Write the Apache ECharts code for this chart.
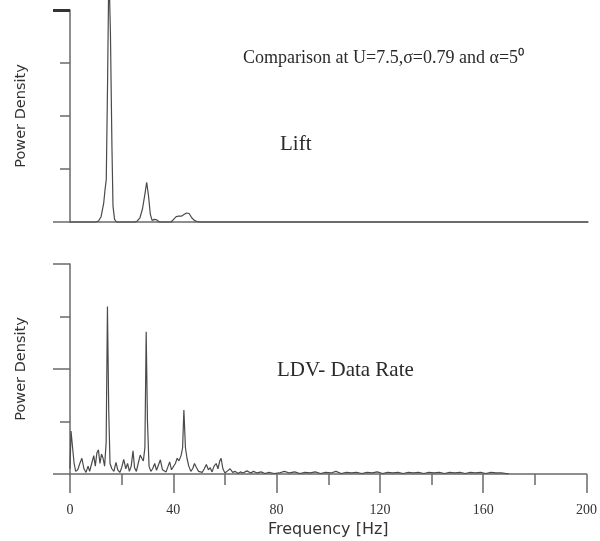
<!DOCTYPE html>
<html>
<head>
<meta charset="utf-8">
<script src="https://cdn.jsdelivr.net/npm/echarts@6/dist/echarts.min.js"></script>
<style>html,body{margin:0;padding:0;background:#fff;}#c{width:600px;height:541px;}</style>
</head>
<body>
<div id="c"></div>
<script>
// ---- data ----
var xTickMajor = [0, 40, 80, 120, 160, 200];
var xTickMinor = [20, 60, 100, 140, 180];
var titleText = 'Comparison at U=7.5,\u03c3=0.79 and \u03b1=5\u2070';
var topLabel = 'Lift';
var bottomLabel = 'LDV- Data Rate';
var yName = 'Power Density';
var xName = 'Frequency [Hz]';

var liftFreq = [0, 10, 11, 12, 13, 13.5, 14, 14.5, 15, 15.6, 16.2, 16.6, 17.2, 18, 25, 26, 27, 28, 29, 29.6, 30.3, 31, 31.7, 32.5, 33.5, 34.5, 39, 40, 41, 42, 43, 44, 45, 46, 47, 48, 49, 50, 200];
var liftPow  = [0, 0, 0.02, 0.1, 0.35, 0.6, 0.8, 2.6, 4.8, 3.6, 1.4, 0.3, 0.05, 0, 0, 0.02, 0.08, 0.25, 0.55, 0.75, 0.5, 0.15, 0.03, 0.05, 0.04, 0, 0, 0.05, 0.1, 0.11, 0.11, 0.14, 0.17, 0.16, 0.08, 0.03, 0.01, 0, 0];

var ldvFreq = [0, 0.4, 1.0, 1.6, 2.2, 3.0, 3.8, 4.6, 5.4, 6.2, 7.0, 7.6, 8.4, 9.2, 9.8, 10.4, 11.0, 11.6, 12.2, 12.8, 13.4, 14.0, 14.5, 15.0, 15.5, 16.2, 17.0, 17.8, 18.5, 19.3, 20.0, 20.8, 21.6, 22.3, 23.0, 23.7, 24.4, 25.0, 25.7, 26.4, 27.2, 27.8, 28.4, 29.0, 29.5, 30.0, 30.6, 31.3, 32.0, 32.8, 33.5, 34.2, 35.0, 35.8, 36.5, 37.2, 38.0, 38.6, 39.3, 40.0, 40.8, 41.5, 42.2, 43.0, 43.6, 44.1, 44.7, 45.3, 46.0, 46.8, 47.5, 48.2, 49.0, 49.8, 50.5, 51.2, 52.0, 52.8, 53.6, 54.3, 55.0, 55.8, 56.6, 57.3, 58.0, 58.5, 59.2, 60.0, 61, 62, 63, 64, 65, 66, 67, 68.5, 70, 71, 72.5, 74, 75.5, 77, 79, 81, 83, 85, 87, 89, 91, 93, 95, 97, 99, 101, 103, 105, 107, 109, 111, 113, 115, 117, 119, 121, 123, 125, 127, 129, 131, 133, 135, 137, 139, 141, 143, 145, 147, 149, 151, 153, 155, 157, 159, 161, 163, 165, 167, 169, 170];
var ldvPow  = [0.1, 0.82, 0.5, 0.2, 0.05, 0.08, 0.2, 0.3, 0.1, 0.03, 0.15, 0.05, 0.2, 0.35, 0.15, 0.4, 0.46, 0.2, 0.38, 0.3, 0.15, 0.6, 3.19, 1.2, 0.2, 0.1, 0.05, 0.22, 0.08, 0.03, 0.12, 0.28, 0.1, 0.2, 0.05, 0.15, 0.44, 0.12, 0.05, 0.2, 0.36, 0.3, 0.25, 0.5, 2.71, 1.0, 0.15, 0.05, 0.1, 0.2, 0.07, 0.1, 0.27, 0.08, 0.1, 0.04, 0.15, 0.23, 0.08, 0.1, 0.2, 0.3, 0.25, 0.35, 0.5, 1.22, 0.5, 0.3, 0.15, 0.05, 0.1, 0.2, 0.12, 0.05, 0.08, 0.03, 0.1, 0.18, 0.08, 0.12, 0.04, 0.15, 0.2, 0.1, 0.25, 0.3, 0.1, 0.02, 0.06, 0.1, 0.03, 0.05, 0.01, 0.04, 0.02, 0.06, 0.02, 0.05, 0.02, 0.04, 0.01, 0.03, 0.01, 0.02, 0.05, 0.02, 0.04, 0.01, 0.03, 0.02, 0.04, 0.01, 0.03, 0.02, 0.05, 0.01, 0.03, 0.02, 0.03, 0.01, 0.03, 0.02, 0.04, 0.01, 0.03, 0.02, 0.03, 0.01, 0.03, 0.02, 0.03, 0.01, 0.03, 0.02, 0.03, 0.01, 0.03, 0.02, 0.03, 0.01, 0.03, 0.02, 0.03, 0.01, 0.03, 0.02, 0.02, 0.01, 0];

function pairs(xs, ys) { return xs.map(function (x, i) { return [x, ys[i]]; }); }

var axisCol = '#6a6a6a';
var lineCol = '#4a4a4a';
var chart = echarts.init(document.getElementById('c'), null, { renderer: 'canvas' });

function xAx(gi, showTicks) {
  return {
    type: 'value', gridIndex: gi, min: 0, max: 200,
    axisLine: { show: true, lineStyle: { color: axisCol, width: 1.5 } },
    axisTick: showTicks ? { show: true, customValues: xTickMajor, length: 19, lineStyle: { color: axisCol, width: 1.5 } } : { show: false },
    axisLabel: showTicks ? { show: true, customValues: xTickMajor, margin: 29, fontFamily: 'Liberation Serif', fontSize: 14, color: '#333' } : { show: false },
    splitLine: { show: false },
    name: showTicks ? xName : '', nameLocation: 'middle', nameGap: 48,
    nameTextStyle: { fontFamily: 'DejaVu Sans', fontSize: 16, color: '#333' }
  };
}
function xMinor(gi) {
  return {
    type: 'value', gridIndex: gi, min: 0, max: 200, position: 'bottom',
    axisLine: { show: false },
    axisTick: { show: true, customValues: xTickMinor, length: 11, lineStyle: { color: axisCol, width: 1.5 } },
    axisLabel: { show: false }, splitLine: { show: false }
  };
}
function yAx(gi, shortTicks, named) {
  return {
    type: 'value', gridIndex: gi, min: 0, max: 4, interval: 1,
    axisLine: { show: true, lineStyle: { color: axisCol, width: 1.5 } },
    axisTick: { show: true, customValues: shortTicks, length: 10, lineStyle: { color: axisCol, width: 1.5 } },
    axisLabel: { show: false }, splitLine: { show: false },
    name: named ? yName : '', nameLocation: 'middle', nameGap: 41, nameRotate: 90,
    nameTextStyle: { fontFamily: 'DejaVu Sans', fontSize: 14.5, color: '#333' }
  };
}
function yLong(gi, longTicks, w, col) {
  return {
    type: 'value', gridIndex: gi, min: 0, max: 4, interval: 1, position: 'left',
    axisLine: { show: false },
    axisTick: { show: true, customValues: longTicks, length: 17, lineStyle: { color: col || axisCol, width: w } },
    axisLabel: { show: false }, splitLine: { show: false }
  };
}

chart.setOption({
  animation: false,
  backgroundColor: '#ffffff',
  title: [
    { text: titleText, left: 238, top: 44, textStyle: { fontFamily: 'Liberation Serif', fontSize: 18, fontWeight: 'normal', color: '#2a2a2a' } },
    { text: topLabel, left: 275, top: 129, textStyle: { fontFamily: 'Liberation Serif', fontSize: 21, fontWeight: 'normal', color: '#2a2a2a' } },
    { text: bottomLabel, left: 272, top: 355, textStyle: { fontFamily: 'Liberation Serif', fontSize: 21, fontWeight: 'normal', color: '#2a2a2a' } }
  ],
  grid: [
    { left: 70, top: 10, width: 518, height: 212 },
    { left: 70, top: 264, width: 518, height: 210 }
  ],
  xAxis: [xAx(0, false), xAx(1, true), xMinor(1)],
  yAxis: [yAx(0, [1, 2, 3], true), yLong(0, [0], 1.5), yLong(0, [4], 3, '#333'), yAx(1, [1, 3], true), yLong(1, [0, 2, 4], 1.5)],
  series: [
    { type: 'line', xAxisIndex: 0, yAxisIndex: 0, data: pairs(liftFreq, liftPow), showSymbol: false, clip: false,
      lineStyle: { color: lineCol, width: 1.2 } },
    { type: 'line', xAxisIndex: 1, yAxisIndex: 3, data: pairs(ldvFreq, ldvPow), showSymbol: false, clip: true,
      lineStyle: { color: lineCol, width: 1.2 } }
  ]
});
</script>
</body>
</html>
